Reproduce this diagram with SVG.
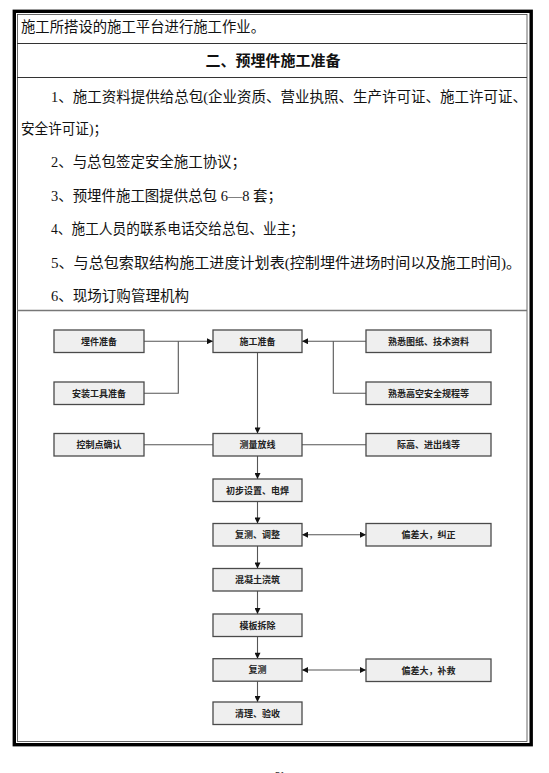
<svg xmlns="http://www.w3.org/2000/svg" width="549" height="773" viewBox="0 0 549 773">
<style>
.body{font-family:"Liberation Serif","Noto Sans CJK SC",serif;font-size:14.3px;fill:#111}
.title{font-family:"Noto Sans CJK SC",sans-serif;font-size:15px;font-weight:700;fill:#111}
.box{fill:#efefef;stroke:#4a4a4a;stroke-width:1.3}
.lbl{font-family:"Noto Sans CJK SC",sans-serif;font-size:9px;font-weight:700;fill:#222;text-anchor:middle}
.con{fill:none;stroke:#555;stroke-width:1.1}
.rule{stroke:#333;stroke-width:1}
</style>
<defs>
<marker id="ah" viewBox="0 0 10 10" refX="10" refY="5" markerWidth="7" markerHeight="6" markerUnits="userSpaceOnUse" orient="auto">
<path d="M0,0 L10,5 L0,10 z" fill="#111"/>
</marker>
<marker id="as" viewBox="0 0 10 10" refX="0" refY="5" markerWidth="7" markerHeight="6" markerUnits="userSpaceOnUse" orient="auto">
<path d="M10,0 L0,5 L10,10 z" fill="#111"/>
</marker>
</defs>
<rect width="549" height="773" fill="#fff"/>
<g id="table">
<rect x="14.3" y="11.3" width="516.9" height="733.4" fill="none" stroke="#000" stroke-width="3.4"/>
<rect x="17.5" y="14.5" width="509.5" height="727" fill="none" stroke="#444" stroke-width="0.8"/>
<line class="rule" x1="17" y1="43.5" x2="527" y2="43.5"/>
<line class="rule" x1="17" y1="77.5" x2="527" y2="77.5"/>
<line x1="17" y1="310.5" x2="527" y2="310.5" stroke="#777" stroke-width="1.4"/>
</g>
<g id="texts">
<text class="body" x="21" y="32.4" textLength="244" lengthAdjust="spacingAndGlyphs">施工所搭设的施工平台进行施工作业。</text>
<text class="title" x="273" y="65.6" text-anchor="middle">二、预埋件施工准备</text>
<text class="body" x="51" y="101.9" textLength="476" lengthAdjust="spacingAndGlyphs">1、施工资料提供给总包(企业资质、营业执照、生产许可证、施工许可证、</text>
<text class="body" x="21" y="133.9" textLength="86" lengthAdjust="spacingAndGlyphs">安全许可证)；</text>
<text class="body" x="51" y="167.4" textLength="195" lengthAdjust="spacingAndGlyphs">2、与总包签定安全施工协议；</text>
<text class="body" x="51" y="200.9" textLength="231" lengthAdjust="spacingAndGlyphs">3、预埋件施工图提供总包 6—8 套；</text>
<text class="body" x="51" y="234.4" textLength="253" lengthAdjust="spacingAndGlyphs">4、施工人员的联系电话交给总包、业主；</text>
<text class="body" x="51" y="267.9" textLength="470" lengthAdjust="spacingAndGlyphs">5、与总包索取结构施工进度计划表(控制埋件进场时间以及施工时间)。</text>
<text class="body" x="51" y="300.9" textLength="138" lengthAdjust="spacingAndGlyphs">6、现场订购管理机构</text>
<text x="280" y="778" font-family="Liberation Sans, sans-serif" font-size="9" fill="#333" text-anchor="middle">51</text>
</g>
<g id="connectors">
<path class="con" d="M144,341.2 H213" stroke="#222" marker-end="url(#ah)"/>
<path class="con" d="M144,393.2 H178.3 V341.2"/>
<path class="con" d="M366,341.2 H302" stroke="#222" marker-end="url(#ah)"/>
<path class="con" d="M366,393.2 H333.3 V341.2"/>
<path class="con" d="M257.5,352.5 V433.5" marker-end="url(#ah)"/>
<path class="con" d="M144,444.8 H213"/>
<path class="con" d="M302,444.8 H366"/>
<path class="con" d="M257.5,456 V479" marker-end="url(#ah)"/>
<path class="con" d="M257.5,501.5 V523.5" marker-end="url(#ah)"/>
<path class="con" d="M302,534.7 H366" stroke="#222" marker-start="url(#as)" marker-end="url(#ah)"/>
<path class="con" d="M257.5,546 V568.5" marker-end="url(#ah)"/>
<path class="con" d="M257.5,591 V614" marker-end="url(#ah)"/>
<path class="con" d="M257.5,636.5 V658.7" marker-end="url(#ah)"/>
<path class="con" d="M302,670 H366" stroke="#222" marker-start="url(#as)" marker-end="url(#ah)"/>
<path class="con" d="M257.5,681.2 V702" marker-end="url(#ah)"/>
</g>
<g id="n1"><rect class="box" x="54" y="330" width="90" height="22.5"/><text class="lbl" x="99" y="344.5">埋件准备</text></g>
<g id="n2"><rect class="box" x="54" y="382" width="90" height="22.5"/><text class="lbl" x="99" y="396.5">安装工具准备</text></g>
<g id="n3"><rect class="box" x="54" y="433.5" width="90" height="22.5"/><text class="lbl" x="99" y="448">控制点确认</text></g>
<g id="n4"><rect class="box" x="213" y="330" width="89" height="22.5"/><text class="lbl" x="257.5" y="344.5">施工准备</text></g>
<g id="n5"><rect class="box" x="213" y="433.5" width="89" height="22.5"/><text class="lbl" x="257.5" y="448">测量放线</text></g>
<g id="n6"><rect class="box" x="213" y="479" width="89" height="22.5"/><text class="lbl" x="257.5" y="493.5">初步设置、电焊</text></g>
<g id="n7"><rect class="box" x="213" y="523.5" width="89" height="22.5"/><text class="lbl" x="257.5" y="538">复测、调整</text></g>
<g id="n8"><rect class="box" x="213" y="568.5" width="89" height="22.5"/><text class="lbl" x="257.5" y="583">混凝土浇筑</text></g>
<g id="n9"><rect class="box" x="213" y="614" width="89" height="22.5"/><text class="lbl" x="257.5" y="628.5">模板拆除</text></g>
<g id="n10"><rect class="box" x="213" y="658.7" width="89" height="22.5"/><text class="lbl" x="257.5" y="673.2">复测</text></g>
<g id="n11"><rect class="box" x="213" y="702" width="89" height="22.5"/><text class="lbl" x="257.5" y="716.5">清理、验收</text></g>
<g id="n12"><rect class="box" x="366" y="330" width="125" height="22.5"/><text class="lbl" x="428.5" y="344.5">熟悉图纸、技术资料</text></g>
<g id="n13"><rect class="box" x="366" y="382" width="125" height="22.5"/><text class="lbl" x="428.5" y="396.5">熟悉高空安全规程等</text></g>
<g id="n14"><rect class="box" x="366" y="433.5" width="125" height="22.5"/><text class="lbl" x="428.5" y="448">际高、进出线等</text></g>
<g id="n15"><rect class="box" x="366" y="523.5" width="125" height="22.5"/><text class="lbl" x="428.5" y="538">偏差大，纠正</text></g>
<g id="n16"><rect class="box" x="366" y="659" width="125" height="22.5"/><text class="lbl" x="428.5" y="673.5">偏差大，补救</text></g>
</svg>
